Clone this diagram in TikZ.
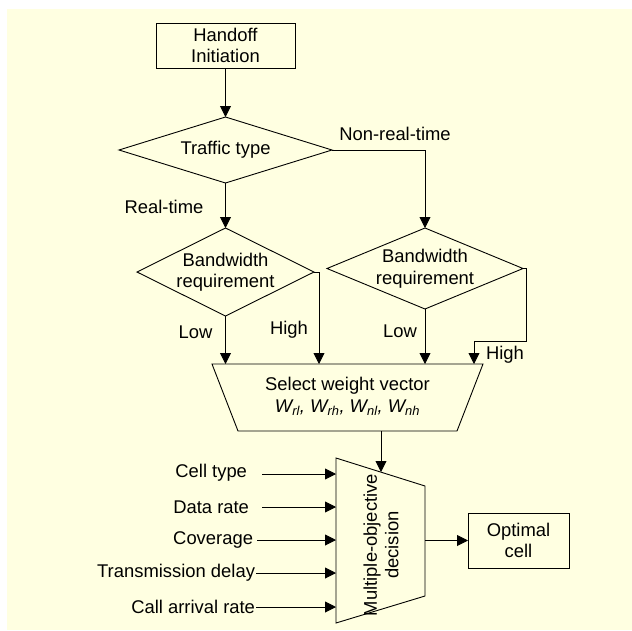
\documentclass[tikz,border=0pt]{standalone}
\usepackage{fontspec}
\setmainfont{Liberation Sans}
\usetikzlibrary{shapes.geometric,arrows.meta}
\definecolor{bgyellow}{RGB}{255,255,225}
\begin{document}
\begin{tikzpicture}[x=1pt,y=-1pt,
  every node/.style={font=\fontsize{18.4}{21.5}\selectfont, inner sep=0pt, outer sep=0pt},
  ln/.style={line width=0.9pt},
  arr/.style={ln,-{Triangle[length=11pt,width=11pt]}},
  box/.style={draw, ln, rectangle, align=center},
  dec/.style={draw, ln, diamond, align=center},
  lbl/.style={align=center}]
\useasboundingbox (0,0) rectangle (632,630);
\fill[bgyellow] (7,9) rectangle (632,630);

% nodes
\node[box, minimum width=139pt, minimum height=45pt] (hand) at (225.5,45.5) {Handoff\\Initiation};
\node[dec, shape aspect=3.2, minimum width=213pt, minimum height=66pt] (traf) at (225.5,150) {Traffic type};
\node[dec, shape aspect=2.0, minimum width=177pt, minimum height=88pt] (bw1) at (225.5,272) {Bandwidth\\requirement};
\node[dec, shape aspect=2.4, minimum width=196pt, minimum height=81pt] (bw2) at (425,268.5) {Bandwidth\\requirement};
\node[box, minimum width=101pt, minimum height=55pt] (opt) at (518.5,540.5) {Optimal\\cell};

% select weight vector trapezium
\coordinate (selA) at (212,364);
\coordinate (selB) at (483,364);
\coordinate (selC) at (457,431);
\coordinate (selD) at (238,431);
\draw[ln] (selA) -- (selB) -- (selC) -- (selD) -- cycle;
\node[lbl] (sel) at (347.5,396.5) {Select weight vector\\
  \itshape W\textsubscript{rl}, W\textsubscript{rh}, W\textsubscript{nl}, W\textsubscript{nh}};
\coordinate (selin1) at (225.5,364);
\coordinate (selin2) at (319,364);
\coordinate (selin3) at (425,364);
\coordinate (selin4) at (474,364);
\coordinate (selout) at (381,431);

% multiple-objective trapezium
\coordinate (moA) at (336,458);
\coordinate (moB) at (425,486);
\coordinate (moC) at (425,596);
\coordinate (moD) at (336,623);
\draw[ln] (moA) -- (moB) -- (moC) -- (moD) -- cycle;
\node[lbl, rotate=90] (mo) at (381,545) {Multiple-objective\\decision};
\coordinate (motop) at (381,472);
\coordinate (moout) at (425,540.5);

% labels
\node (rt) at (164,207) {Real-time};
\node (nrt) at (395,134) {Non-real-time};
\node (low1) at (195.5,332) {Low};
\node (high1) at (289,330) {High};
\node (low2) at (400,331) {Low};
\node (high2) at (505,355) {High};

% connectors
\draw[arr] (hand.south) -- (traf.north);
\draw[arr] (traf.south) -- (bw1.north);
\draw[arr] (traf.east) -| (bw2.north);
\draw[arr] (bw1.south) -- (selin1);
\coordinate (h1) at (319,272);
\draw[arr] (bw1.east) -- (h1) -- (selin2);
\draw[arr] (bw2.south) -- (selin3);
\coordinate (h2a) at (526,268.5);
\coordinate (h2b) at (526,341);
\coordinate (h2c) at (474,341);
\draw[arr] (bw2.east) -- (h2a) -- (h2b) -- (h2c) -- (selin4);
\draw[arr] (selout) -- (motop);
\draw[arr] (moout) -- (opt.west);

% inputs
\node[anchor=east] (in1) at (247,473) {Cell type};
\node[anchor=east] (in2) at (249,507) {Data rate};
\node[anchor=east] (in3) at (253,540) {Coverage};
\node[anchor=east] (in4) at (255,573) {Transmission delay};
\node[anchor=east] (in5) at (255,607) {Call arrival rate};
\coordinate (a1) at (262,474); \coordinate (b1) at (336,474);
\coordinate (a2) at (262,507); \coordinate (b2) at (336,507);
\coordinate (a3) at (257,540); \coordinate (b3) at (336,540);
\coordinate (a4) at (256,573); \coordinate (b4) at (336,573);
\coordinate (a5) at (256,607); \coordinate (b5) at (336,607);
\draw[arr] (a1) -- (b1);
\draw[arr] (a2) -- (b2);
\draw[arr] (a3) -- (b3);
\draw[arr] (a4) -- (b4);
\draw[arr] (a5) -- (b5);
\end{tikzpicture}
\end{document}
